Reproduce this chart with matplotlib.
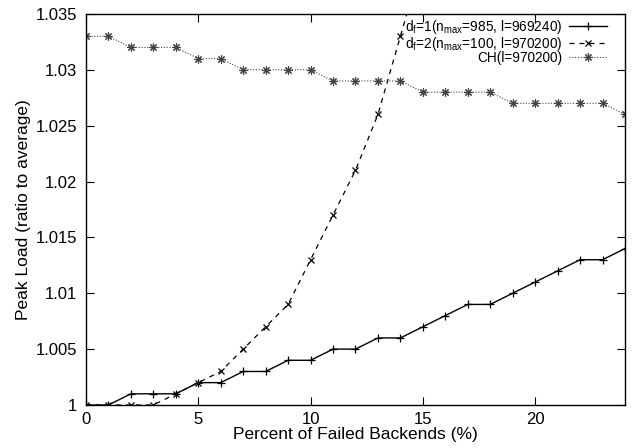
import matplotlib
matplotlib.use("Agg")
import matplotlib.pyplot as plt

plt.rcParams['font.family'] = ['Liberation Sans', 'DejaVu Sans']
plt.rcParams['mathtext.fontset'] = 'custom'
plt.rcParams['mathtext.rm'] = 'Liberation Sans'

# percent of failed backends
pct = list(range(0, 25))
pct_df2 = list(range(0, 16))

# peak load for each scheme
peak_df1 = [1.000, 1.000, 1.001, 1.001, 1.001, 1.002, 1.002, 1.003, 1.003, 1.004,
            1.004, 1.005, 1.005, 1.006, 1.006, 1.007, 1.008, 1.009, 1.009, 1.010,
            1.011, 1.012, 1.013, 1.013, 1.014]
peak_df2 = [1.000, 1.000, 1.000, 1.000, 1.001, 1.002, 1.003, 1.005, 1.007, 1.009,
            1.013, 1.017, 1.021, 1.026, 1.033, 1.040]
peak_ch = [1.033, 1.033, 1.032, 1.032, 1.032, 1.031, 1.031, 1.030, 1.030, 1.030,
           1.030, 1.029, 1.029, 1.029, 1.029, 1.028, 1.028, 1.028, 1.028, 1.027,
           1.027, 1.027, 1.027, 1.027, 1.026]

labels = [r'd$_\mathrm{f}$=1(n$_\mathrm{max}$=985, l=969240)',
          r'd$_\mathrm{f}$=2(n$_\mathrm{max}$=100, l=970200)',
          'CH(l=970200)']

xticks = [0, 5, 10, 15, 20]
yticks = [1, 1.005, 1.01, 1.015, 1.02, 1.025, 1.03, 1.035]
yticklabels = ['1', '1.005', '1.01', '1.015', '1.02', '1.025', '1.03', '1.035']

fig = plt.figure(figsize=(6.34, 4.48), dpi=100)
ax = fig.add_axes([0.1356, 0.096, 0.8502, 0.873])

ax.plot(pct, peak_df1, color='black', lw=1.0, ls='-', marker='+', ms=6, mew=0.9,
        label=labels[0])
ax.plot(pct_df2, peak_df2, color='black', lw=0.9, ls=(0, (4, 4)), marker='x', ms=5,
        mew=0.9, label=labels[1])
ax.plot(pct, peak_ch, color='#444444', lw=0.8, ls=(0, (1, 1.5)), marker=(8, 2, 0),
        ms=6, mew=0.8, label=labels[2])

ax.set_xlim(0, 24)
ax.set_ylim(1, 1.035)
ax.set_xticks(xticks)
ax.set_yticks(yticks)
ax.set_yticklabels(yticklabels)
ax.tick_params(direction='in', top=True, right=True, length=6, width=0.8,
               labelsize=12)
ax.tick_params(axis='y', pad=6.5)
ax.tick_params(axis='x', pad=5)
for s in ax.spines.values():
    s.set_linewidth(1.0)

ax.set_xlabel('Percent of Failed Backends (%)', fontsize=12.5, labelpad=0)
ax.set_ylabel('Peak Load (ratio to average)', fontsize=12.5, labelpad=3)

ax.legend(loc='upper right', frameon=False, markerfirst=False, fontsize=9.8,
          handlelength=2.8, labelspacing=-0.1, borderaxespad=0.1, borderpad=0.2,
          handletextpad=0.5, bbox_to_anchor=(0.974, 1.0))

fig.savefig('out.png', dpi=100)
